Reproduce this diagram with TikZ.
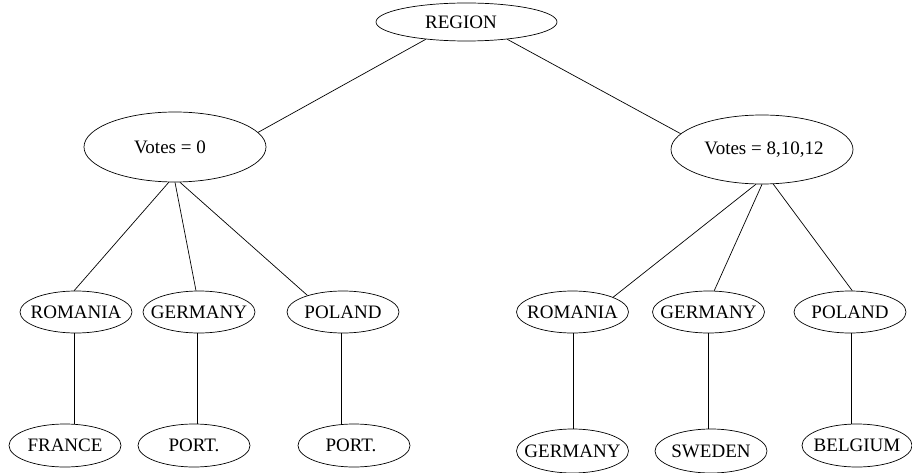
\documentclass[tikz,border=0pt]{standalone}
\usepackage{fontspec}
\setmainfont{Liberation Serif}
\usetikzlibrary{shapes.geometric}

\tikzset{
  treenode/.style={draw, ellipse, line width=0.7pt, inner xsep=-30pt, inner ysep=-10pt,
                   font=\fontsize{19}{22}\selectfont},
  leaf/.style={treenode, minimum width=112pt, minimum height=42pt},
  branch/.style={treenode, minimum width=182pt, minimum height=70pt},
  edge/.style={line width=0.7pt}
}
% move a label sideways inside its ellipse by half the given length
\newcommand{\nudge}[2]{\hspace*{#1}#2}

\begin{document}
\begin{tikzpicture}[x=1pt, y=-1pt]
\useasboundingbox (0,0) rectangle (912,473);

% root
\node[treenode, minimum width=181pt, minimum height=38pt] (reg) at (466.5,22) {\nudge{-11pt}{REGION}};

% vote groups
\node[branch] (v0) at (175,147) {\nudge{-10pt}{Votes = 0}};
\node[branch, minimum height=69pt] (v1) at (762,149.5) {Votes = 8,10,12\hspace*{-4pt}};

% second level, left
\node[leaf] (ro1) at (76,312)  {ROMANIA};
\node[leaf] (ge1) at (199,312) {GERMANY};
\node[leaf] (po1) at (343,312) {POLAND};

% second level, right
\node[leaf] (ro2) at (572.5,312) {ROMANIA};
\node[leaf] (ge2) at (708.5,312) {GERMANY};
\node[leaf] (po2) at (850,312)   {POLAND};

% third level, left
\node[leaf, minimum height=43pt] (fr)  at (65,445.5)  {FRANCE};
\node[leaf, minimum height=43pt] (pt1) at (194,445.5) {PORT.};
\node[leaf, minimum height=43pt] (pt2) at (354,445.5) {\nudge{-6pt}{PORT.}};

% third level, right
\node[leaf, minimum height=44pt] (ge3) at (572.5,451) {GERMANY};
\node[leaf, minimum height=44pt] (sw)  at (711,451)   {SWEDEN};
\node[leaf, minimum width=110pt, minimum height=43pt] (be) at (857,445.5) {BELGIUM};

% root to vote groups
\draw[edge] (reg.203) -- (v0.10);
\draw[edge] (reg.337) -- (v1.169);

% vote groups to countries
\draw[edge] (v0.260) -- (ro1.95);
\draw[edge] (v0.270) -- (ge1.98);
\draw[edge] (v0.278) -- (po1.155);
\draw[edge] (v1.260) -- (ro2.20);
\draw[edge] (v1.270) -- (ge2.75);
\draw[edge] (v1.288) -- (po2.84);

% countries to their successors
\draw[edge] (ro1.265) -- (ro1.265 |- fr.north);
\draw[edge] (ge1.265) -- (ge1.265 |- pt1.north);
\draw[edge] (po1.266) -- (po1.266 |- pt2.north);
\draw[edge] (ro2.273) -- (ro2.273 |- ge3.north);
\draw[edge] (ge2.south) -- (ge2.south |- sw.north);
\draw[edge] (po2.273) -- (po2.273 |- be.north);
\end{tikzpicture}
\end{document}
